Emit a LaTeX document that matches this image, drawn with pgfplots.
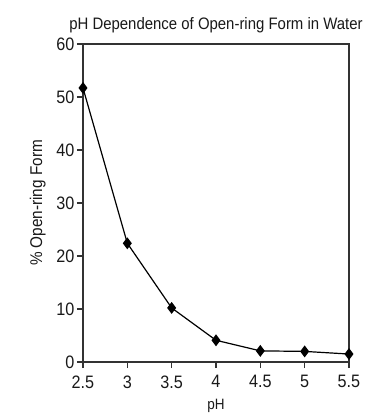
\documentclass[border=0pt]{standalone}
\usepackage{fontspec}
\setmainfont[FakeStretch=0.9]{Liberation Sans}
\usepackage{pgfplots}
\pgfplotsset{compat=1.18}
\begin{document}
\begin{tikzpicture}
\begin{axis}[
  at={(0,0)}, anchor=south west,
  scale only axis,
  width=266pt, height=318pt,
  xmin=2.5, xmax=5.5, ymin=0, ymax=60,
  xtick={2.5,3,3.5,4,4.5,5,5.5},
  ytick={0,10,20,30,40,50,60},
  xticklabels={2.5,3,3.5,4,4.5,5,5.5},
  yticklabels={0,10,20,30,40,50,60},
  tick align=outside,
  major tick length=6pt,
  xtick pos=bottom, ytick pos=left,
  axis line style={draw=black!80, line width=1.6pt},
  every tick/.style={black!80, line width=1.3pt},
  tick label style={font=\fontsize{18}{20}\selectfont, text=black!90},
  xticklabel style={yshift=-4pt},
  yticklabel style={xshift=1pt},
  title={pH Dependence of Open-ring Form in Water},
  title style={font=\fontsize{16.6}{18}\selectfont, text=black!90, yshift=2pt},
  xlabel={pH},
  ylabel={\% Open-ring Form},
  xlabel style={font=\fontsize{15}{17}\selectfont, text=black!90, yshift=-4pt},
  ylabel style={font=\fontsize{17}{19}\selectfont, text=black!90, yshift=4pt},
  clip=false,
]
\addplot[black, line width=1.2pt, mark=diamond*, mark size=5pt, mark options={fill=black}]
  coordinates {(2.5,51.7) (3,22.4) (3.5,10.2) (4,4.1) (4.5,2.1) (5,2.0) (5.5,1.5)};
\end{axis}
\pgfresetboundingbox
\path (-83pt,-56pt) rectangle (295pt,362pt);
\end{tikzpicture}
\end{document}
